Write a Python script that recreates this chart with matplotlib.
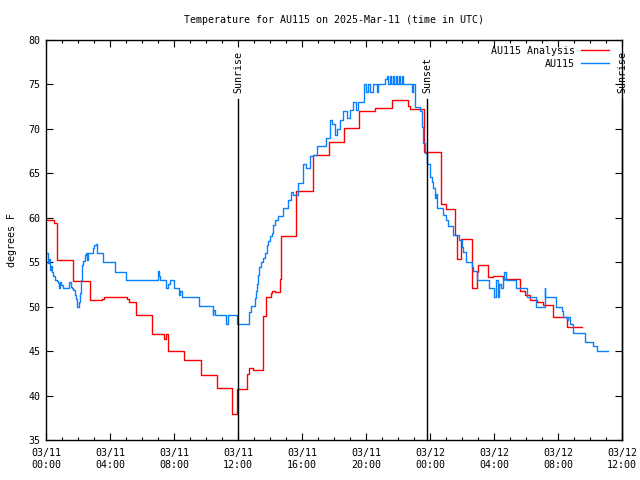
import matplotlib
matplotlib.use("Agg")
import matplotlib.pyplot as plt
from matplotlib.ticker import MultipleLocator

plt.rcParams['font.family'] = ['DejaVu Sans Mono']
FS = 7.2

# Hours since 03/11 00:00 UTC
red_h = [0.0, 0.52, 0.67, 0.71, 1.68, 2.72, 3.53, 3.63, 5.04, 5.19, 5.63, 6.6, 7.38, 7.5,
         7.64, 8.64, 9.67, 10.67, 11.6, 11.92, 12.58, 12.67, 12.96, 13.59, 13.72, 14.04,
         14.11, 14.34, 14.6, 14.69, 15.64, 16.67, 17.68, 18.61, 19.59, 20.59, 21.64, 22.63,
         22.72, 23.63, 24.68, 24.71, 24.98, 25.58, 25.67, 25.92, 26.63, 26.94, 27.0, 27.63,
         27.96, 28.56, 29.61, 29.94, 30.25, 30.67, 31.08, 31.71, 32.56, 33.52]
red_t = [59.75, 59.4, 57.3, 55.25, 52.85, 50.75, 50.9, 51.05, 50.9, 50.5, 49.06, 46.9, 46.4, 46.9,
         45.05, 44.0, 42.3, 40.9, 37.9, 40.7, 42.4, 43.06, 42.9, 48.95, 51.05, 51.5,
         51.8, 51.6, 53.1, 57.9, 63.05, 67.1, 68.5, 70.06, 72.05, 72.4, 73.2, 72.6,
         72.2, 67.36, 64.4, 61.5, 60.96, 58.06, 55.33, 57.58, 52.07, 53.94, 54.65, 53.33,
         53.45, 53.08, 51.76, 51.35, 50.75, 50.56, 50.15, 48.8, 47.75, 47.75]

blue_px = [46, 48, 49, 50, 50.7, 52.3, 53.3, 54.7, 56.7, 58, 59, 60, 61.3, 63, 68, 69, 70.7, 72.3,
           73.3, 74.7, 75.7, 76.7, 77.3, 79, 80, 81.3, 82.3, 83.3, 84.7, 85.7, 86.7, 87.3, 88.3,
           92.3, 93.3, 94, 95.7, 96.7, 102.3, 103.3, 114, 115, 125, 126, 156.7, 157.5, 159, 160,
           165, 166, 168, 170, 173, 173.5, 178, 178.5, 180, 181.7, 197.3, 199.3, 211.7, 212.5,
           213.3, 215, 225, 226, 227.5, 228.3, 236, 236.7, 248.3, 249.3, 250.7, 254, 255, 256,
           257.3, 258.3, 259.3, 261, 263.3, 265, 266.7, 268.3, 270, 271.7, 273.3, 275, 278.3,
           283.3, 288.3, 291, 293.3, 298.3, 303.3, 306, 310, 313.3, 317.3, 321, 325.7, 330, 332,
           335, 337, 340, 343, 346.7, 350, 353.3, 356, 358.3, 363.3, 364, 366, 368, 370, 373,
           376.7, 378.3, 385, 387, 388, 390, 391, 393, 394, 396, 397, 399, 400, 402, 403.3, 410,
           411.7, 413, 414.7, 420, 421.7, 423.3, 425, 427.3, 430, 431.7, 433.3, 435, 436, 437.3,
           441.7, 443.3, 446, 448.3, 453.3, 459.3, 461.7, 463.3, 465.7, 471.7, 472.7, 477.3,
           487.7, 489, 492.3, 494, 496, 497.7, 499.3, 501, 502.7, 504.3, 506, 514.3, 515.7, 526,
           526.7, 535, 535.7, 544, 544.7, 545.3, 554.3, 556, 561.7, 563.3, 566.7, 568.3, 570,
           572.7, 582.7, 585, 591.7, 593.3, 596.7, 608.3]
blue_t = [56.0, 54.9, 55.4, 54.1, 54.6, 53.94, 53.4, 53.0, 52.9, 52.7, 52.07, 52.8, 52.4, 52.07,
          52.07, 52.8, 52.2, 52.07, 51.9, 51.3, 50.9, 50.56, 50.0, 50.56, 51.5, 53.0, 54.7, 55.1,
          55.8, 56.0, 55.8, 55.25, 56.0, 56.0, 56.56, 56.94, 57.05, 56.0, 56.0, 55.0, 55.0, 53.94,
          53.94, 53.0, 53.0, 54.0, 53.5, 53.0, 53.0, 52.07, 52.6, 53.0, 53.0, 52.07, 52.07, 51.3,
          51.8, 51.05, 51.05, 50.07, 50.07, 49.06, 49.6, 49.06, 49.06, 48.05, 48.05, 49.06, 49.06,
          48.05, 48.05, 49.45, 50.07, 50.07, 50.94, 51.8, 52.6, 53.56, 54.5, 55.0, 55.44, 56.0,
          56.94, 57.4, 57.9, 58.3, 59.2, 59.75, 60.2, 61.06, 62.0, 62.94, 62.6, 63.95, 66.05, 65.6,
          66.9, 67.1, 68.07, 68.07, 69.0, 71.0, 70.5, 69.3, 70.0, 71.0, 72.05, 71.2, 72.1, 73.06,
          72.1, 73.06, 73.06, 75.0, 74.1, 75.0, 74.1, 75.0, 74.1, 75.0, 75.6, 75.9, 75.0, 75.9,
          75.0, 75.9, 75.0, 75.9, 75.0, 75.9, 75.0, 75.9, 75.0, 75.0, 74.1, 75.0, 72.5, 72.05,
          70.25, 68.4, 67.25, 66.05, 64.6, 64.06, 63.3, 62.2, 62.7, 61.06, 61.06, 60.3, 59.75,
          59.05, 58.06, 57.5, 56.75, 56.2, 55.0, 54.5, 54.0, 53.0, 53.0, 52.07, 52.07, 51.1, 53.0,
          51.1, 52.6, 52.07, 53.0, 53.9, 53.0, 53.0, 52.07, 52.07, 51.05, 51.05, 50.0, 50.0, 52.07,
          51.05, 51.05, 50.0, 49.5, 48.88, 48.5, 48.88, 48.05, 47.0, 47.0, 46.0, 46.0, 45.6, 45.0,
          45.0]
blue_h = [(p - 46) / 16.0 for p in blue_px]

sun_events = [12.0, 23.81, 36.0]
sun_labels = ["Sunrise", "Sunset", "Sunrise"]

xtick_h = [0, 4, 8, 12, 16, 20, 24, 28, 32, 36]
xtick_labels = ["03/11\n00:00", "03/11\n04:00", "03/11\n08:00", "03/11\n12:00", "03/11\n16:00",
                "03/11\n20:00", "03/12\n00:00", "03/12\n04:00", "03/12\n08:00", "03/12\n12:00"]

fig = plt.figure(figsize=(6.4, 4.8), dpi=100)
ax = fig.add_axes([46/640, 1-440/480, 576/640, 400/480])

ax.plot(red_h, red_t, color='#ff0000', lw=1.0, drawstyle='steps-post', label='AU115 Analysis')
ax.plot(blue_h, blue_t, color='#0a80ff', lw=1.0, drawstyle='steps-post', label='AU115')

top_line = 73.4
for h, lab in zip(sun_events, sun_labels):
    ax.plot([h, h], [35, top_line], color='black', lw=1.0, clip_on=False)
    ax.text(h, top_line + 0.6, lab, rotation=90, ha='center', va='bottom', fontsize=FS, clip_on=False)

ax.set_xlim(0, 36)
ax.set_ylim(35, 80)
ax.set_xticks(xtick_h)
ax.set_xticklabels(xtick_labels, fontsize=FS)
ax.xaxis.set_minor_locator(MultipleLocator(1))
ax.set_yticks(range(35, 81, 5))
ax.tick_params(axis='y', labelsize=FS, pad=4)
ax.tick_params(axis='x', pad=6)
ax.tick_params(which='major', direction='in', length=5, width=0.8, top=True, right=True)
ax.tick_params(which='minor', direction='in', length=2.5, width=0.8, top=True, right=True)
for s in ax.spines.values():
    s.set_linewidth(1.0)

ax.set_title('Temperature for AU115 on 2025-Mar-11 (time in UTC)', fontsize=FS, pad=12)
ax.set_ylabel('degrees F', fontsize=FS, labelpad=8)

leg = ax.legend(loc='upper right', frameon=False, markerfirst=False, fontsize=FS,
                handlelength=2.8, handletextpad=0.6, borderaxespad=0.2, labelspacing=0.3,
                bbox_to_anchor=(0.988, 1.0))

fig.savefig('out.png', dpi=100)
